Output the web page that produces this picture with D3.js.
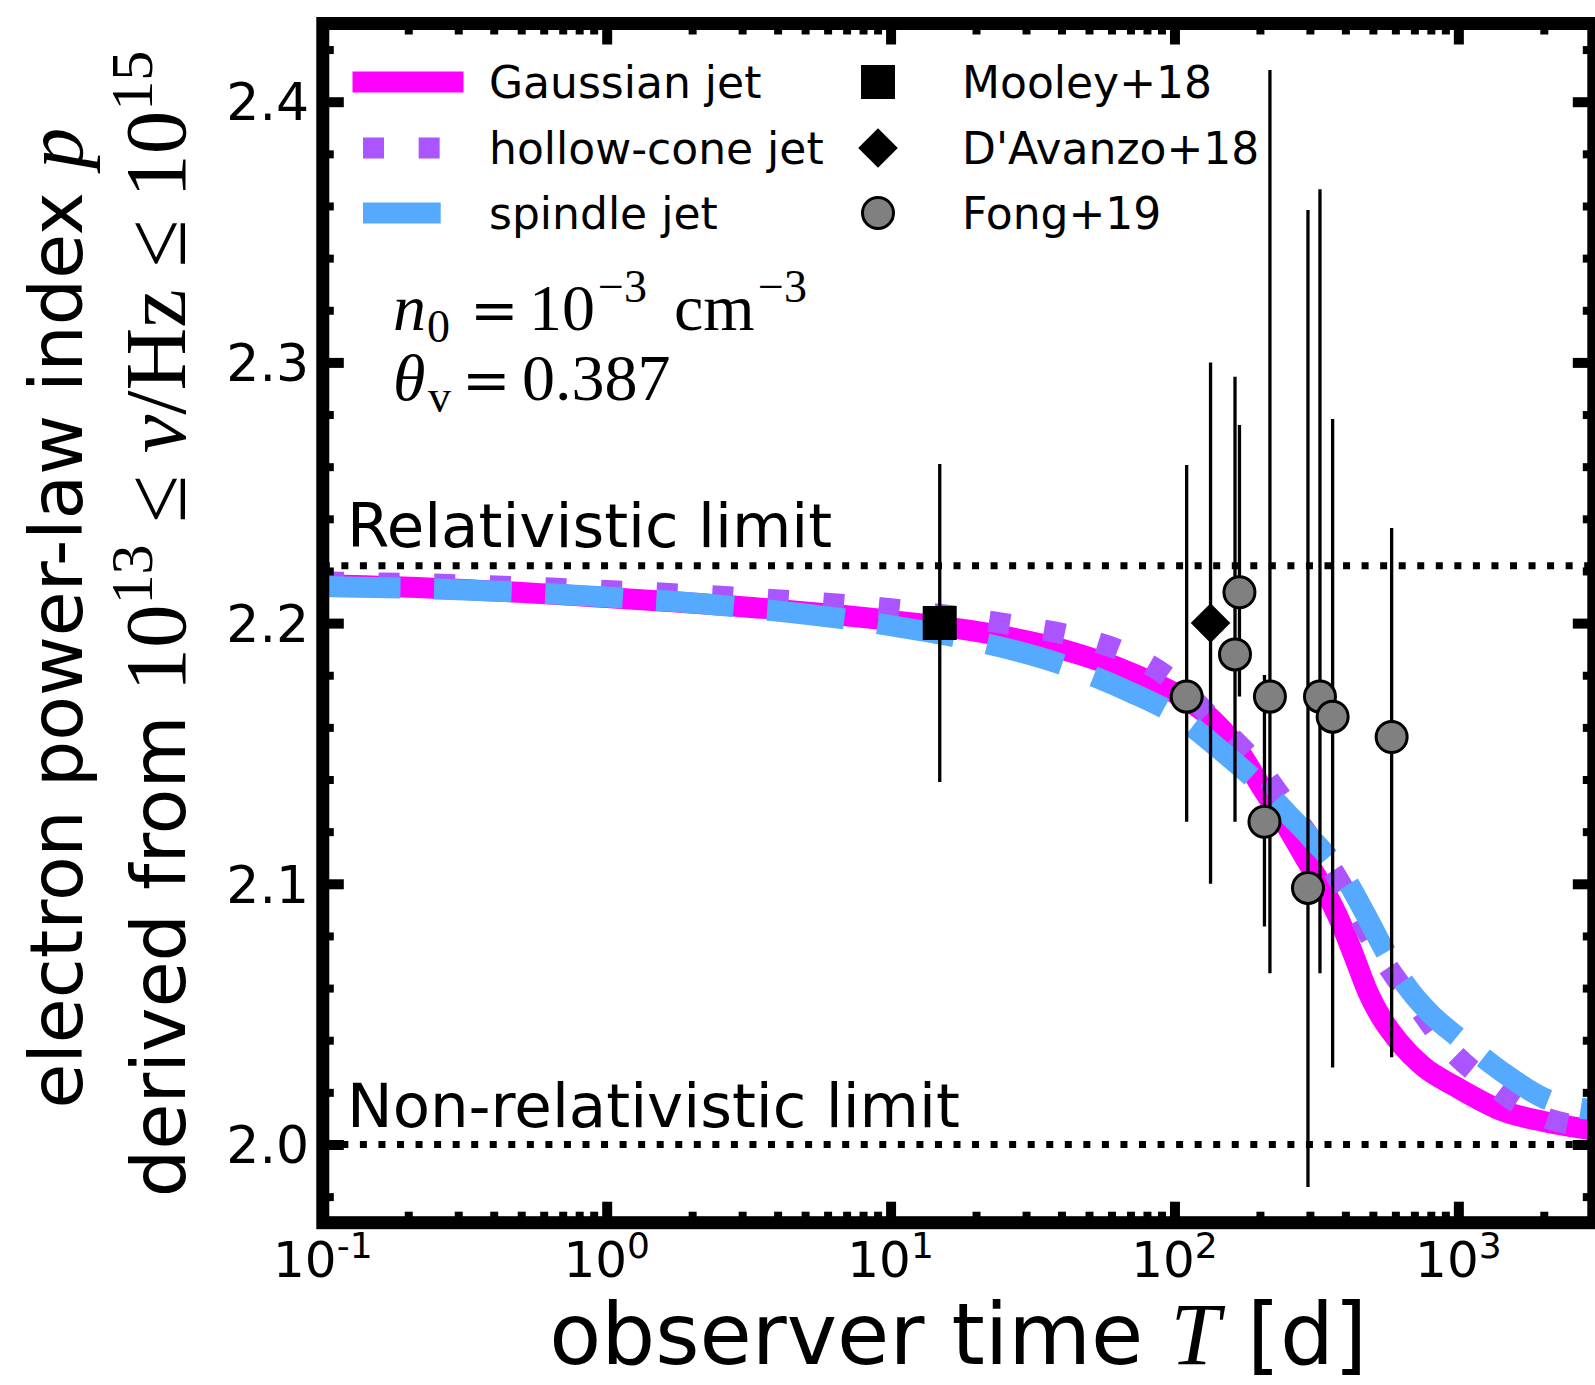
<!DOCTYPE html>
<meta charset="utf-8">
<style>
body { margin: 0; background: #fff; }
svg { display: block; }
text { font-family: "DejaVu Sans", sans-serif; fill: #000; }
.math { font-family: "Liberation Serif", "DejaVu Serif", serif; }
.tick line { stroke: #000; }
</style>
<body>
<script src="https://d3js.org/d3.v7.min.js"></script>
<script>

// model curves: observer time [d] -> electron index p
var gaussianT = [0.1, 0.3, 1, 3, 10, 20, 40, 70, 100, 130, 165, 205, 250, 290, 340, 380, 430, 480, 540, 616, 750, 982, 1425, 2000, 3000];
var gaussianP = [2.2148, 2.2130, 2.2098, 2.2063, 2.2010, 2.1968, 2.1900, 2.1810, 2.1732, 2.1650, 2.1526, 2.1362, 2.1215, 2.1095, 2.0970, 2.0865, 2.0720, 2.0585, 2.0480, 2.0395, 2.0300, 2.0221, 2.0130, 2.0088, 2.0055];

var hollowT = [0.1, 0.3, 1, 3, 10, 20, 30, 50, 70, 100, 140, 200, 250, 300, 350, 420, 500, 600, 700, 900, 1300, 1900, 3000];
var hollowP = [2.2158, 2.2147, 2.2125, 2.2098, 2.2055, 2.2015, 2.1985, 2.1935, 2.1878, 2.1775, 2.1620, 2.1445, 2.1300, 2.1180, 2.1075, 2.0930, 2.0775, 2.0640, 2.0545, 2.0385, 2.0230, 2.0115, 2.0065];

var spindleT = [0.1, 0.3, 1, 3, 10, 20, 40, 70, 100, 150, 200, 250, 300, 350, 400, 470, 550, 650, 800, 1000, 1400, 2000, 3000];
var spindleP = [2.2140, 2.2128, 2.2100, 2.2060, 2.1990, 2.1930, 2.1842, 2.1735, 2.1650, 2.1500, 2.1380, 2.1270, 2.1180, 2.1100, 2.1020, 2.0885, 2.0745, 2.0615, 2.0500, 2.0410, 2.0285, 2.0178, 2.0132];

// observations
var mooleyT = [14.9], mooleyP = [2.200], mooleyErr = [0.061];
var davanzoT = [134], davanzoP = [2.200], davanzoErr = [0.100];
var fongT  = [110.4, 163.4, 169.4, 207.5, 216.9, 295.3, 325.5, 360.7, 582.1];
var fongP  = [2.1718, 2.1880, 2.2118, 2.1238, 2.1718, 2.0984, 2.1718, 2.1641, 2.1563];
var fongLo = [0.0480, 0.0642, 0.0400, 0.0402, 0.1061, 0.1147, 0.1061, 0.1346, 0.1228];
var fongHi = [0.0888, 0.1065, 0.0642, 0.0563, 0.2404, 0.2601, 0.1946, 0.1142, 0.0802];

var relLimit = 2.222, nonrelLimit = 2.0;

var yTicks = [2.0, 2.1, 2.2, 2.3, 2.4];
var yTickLabels = ["2.0", "2.1", "2.2", "2.3", "2.4"];
var xTicks = [0.1, 1, 10, 100, 1000];
var xTickExp = ["-1", "0", "1", "2", "3"];

var modelNames = ["Gaussian jet", "hollow-cone jet", "spindle jet"];
var obsNames = ["Mooley+18", "D'Avanzo+18", "Fong+19"];

var width = 1595, height = 1385;
var box = {left: 322.8, right: 1593.8, top: 23.5, bottom: 1222.7};

var x = d3.scaleLog().domain([0.1, 3000]).range([box.left, box.right]);
var y = d3.scaleLinear().domain([1.97, 2.43]).range([box.bottom, box.top]);

var svg = d3.select("body").append("svg")
    .attr("width", width)
    .attr("height", height);

svg.append("clipPath").attr("id", "clip")
  .append("rect")
    .attr("x", box.left).attr("y", box.top)
    .attr("width", box.right - box.left).attr("height", box.bottom - box.top);

var plot = svg.append("g").attr("clip-path", "url(#clip)");

var line = d3.line()
    .x(function(d) { return x(d[0]); })
    .y(function(d) { return y(d[1]); })
    .curve(d3.curveMonotoneX);

// the three model curves
plot.append("path")
    .datum(d3.zip(gaussianT, gaussianP))
    .attr("d", line)
    .attr("fill", "none").attr("stroke", "#ff00ff").attr("stroke-width", 21);

plot.append("path")
    .datum(d3.zip(hollowT, hollowP))
    .attr("d", line)
    .attr("fill", "none").attr("stroke", "#aa55ff").attr("stroke-width", 21)
    .attr("stroke-dasharray", "21,34.65");

plot.append("path")
    .datum(d3.zip(spindleT, spindleP))
    .attr("d", line)
    .attr("fill", "none").attr("stroke", "#55aaff").attr("stroke-width", 21)
    .attr("stroke-dasharray", "77.7,33.6");

// limit lines
[relLimit, nonrelLimit].forEach(function(v) {
  plot.append("line")
      .attr("x1", x(0.1)).attr("x2", x(3000))
      .attr("y1", y(v)).attr("y2", y(v))
      .attr("stroke", "#000").attr("stroke-width", 7)
      .attr("stroke-dasharray", "7,11.55");
});

svg.append("text").attr("x", 347).attr("y", 547)
    .style("font-size", "61px").text("Relativistic limit");
svg.append("text").attr("x", 347).attr("y", 1127)
    .style("font-size", "61px").text("Non-relativistic limit");

// parameters
var ann1 = svg.append("text").attr("class", "math").attr("y", 330).style("font-size", "66px");
ann1.append("tspan").attr("x", 393).style("font-style", "italic").text("n");
ann1.append("tspan").attr("x", 427).attr("dy", 12).style("font-size", "46px").text("0");
ann1.append("tspan").attr("x", 470).attr("dy", -12).style("font-family", "DejaVu Serif").style("font-size", "58px").text("=");
ann1.append("tspan").attr("x", 529).text("10");
ann1.append("tspan").attr("x", 598).attr("dy", -28).style("font-size", "46px").text("\u22123");
ann1.append("tspan").attr("x", 674).attr("dy", 28).text("cm");
ann1.append("tspan").attr("x", 758).attr("dy", -28).style("font-size", "46px").text("\u22123");

var ann2 = svg.append("text").attr("class", "math").attr("y", 400).style("font-size", "66px");
ann2.append("tspan").attr("x", 393).style("font-style", "italic").text("\u03b8");
ann2.append("tspan").attr("x", 428).attr("dy", 12).style("font-size", "46px").text("v");
ann2.append("tspan").attr("x", 462).attr("dy", -12).style("font-family", "DejaVu Serif").style("font-size", "58px").text("=");
ann2.append("tspan").attr("x", 522).text("0.387");

// error bars and markers
function errbar(t, p, lo, hi) {
  svg.append("line")
      .attr("x1", x(t)).attr("x2", x(t))
      .attr("y1", y(p - lo)).attr("y2", y(p + hi))
      .attr("stroke", "#000").attr("stroke-width", 3.3);
}
mooleyT.forEach(function(t, i) { errbar(t, mooleyP[i], mooleyErr[i], mooleyErr[i]); });
davanzoT.forEach(function(t, i) { errbar(t, davanzoP[i], davanzoErr[i], davanzoErr[i]); });
fongT.forEach(function(t, i) { errbar(t, fongP[i], fongLo[i], fongHi[i]); });

var sqr = d3.symbol().type(d3.symbolSquare).size(34 * 34);
var dia = d3.symbol().type(d3.symbolSquare).size(28 * 28);

svg.selectAll(".mooley").data(mooleyT).enter().append("path")
    .attr("d", sqr)
    .attr("transform", function(d, i) { return "translate(" + x(d) + "," + y(mooleyP[i]) + ")"; })
    .attr("fill", "#000");

svg.selectAll(".davanzo").data(davanzoT).enter().append("path")
    .attr("d", dia)
    .attr("transform", function(d, i) { return "translate(" + x(d) + "," + y(davanzoP[i]) + ") rotate(45)"; })
    .attr("fill", "#000");

svg.selectAll(".fong").data(fongT).enter().append("circle")
    .attr("cx", function(d) { return x(d); })
    .attr("cy", function(d, i) { return y(fongP[i]); })
    .attr("r", 15.5)
    .attr("fill", "#808080").attr("stroke", "#000").attr("stroke-width", 3);

// legend
var rows = [82, 148, 213];
var lg = svg.append("g");
lg.append("line").attr("x1", 363).attr("x2", 453).attr("y1", rows[0]).attr("y2", rows[0])
    .attr("stroke", "#ff00ff").attr("stroke-width", 21).attr("stroke-linecap", "square");
lg.append("line").attr("x1", 363).attr("x2", 453).attr("y1", rows[1]).attr("y2", rows[1])
    .attr("stroke", "#aa55ff").attr("stroke-width", 21).attr("stroke-dasharray", "21,34.65");
lg.append("line").attr("x1", 363).attr("x2", 453).attr("y1", rows[2]).attr("y2", rows[2])
    .attr("stroke", "#55aaff").attr("stroke-width", 21).attr("stroke-dasharray", "77.7,33.6");
modelNames.forEach(function(s, i) {
  lg.append("text").attr("x", 489).attr("y", rows[i] + 16).style("font-size", "44px").text(s);
});
lg.append("path").attr("d", sqr).attr("transform", "translate(878," + rows[0] + ")").attr("fill", "#000");
lg.append("path").attr("d", dia).attr("transform", "translate(878," + rows[1] + ") rotate(45)").attr("fill", "#000");
lg.append("circle").attr("cx", 878).attr("cy", rows[2]).attr("r", 15.5)
    .attr("fill", "#808080").attr("stroke", "#000").attr("stroke-width", 3);
obsNames.forEach(function(s, i) {
  lg.append("text").attr("x", 962).attr("y", rows[i] + 16).style("font-size", "44px").text(s);
});

// ticks (all inward, mirrored on every side)
var xMinor = x.ticks().filter(function(t) {
  return xTicks.every(function(m) { return Math.abs(t - m) > 1e-9 * m; });
});
var yMinor = y.ticks(25).filter(function(v) {
  return yTicks.every(function(m) { return Math.abs(v - m) > 1e-9; });
});

function tickLayer(axis, vals, len, w) {
  return function(g) {
    g.call(axis.tickValues(vals).tickSize(-len).tickFormat(""));
    g.select(".domain").remove();
    g.selectAll(".tick line").attr("stroke-width", w);
  };
}
[[xTicks, 21, 10], [xMinor, 11, 8]].forEach(function(s) {
  svg.append("g").attr("transform", "translate(0," + box.bottom + ")").call(tickLayer(d3.axisBottom(x), s[0], s[1], s[2]));
  svg.append("g").attr("transform", "translate(0," + box.top + ")").call(tickLayer(d3.axisTop(x), s[0], s[1], s[2]));
});
[[yTicks, 21, 10], [yMinor, 11, 8]].forEach(function(s) {
  svg.append("g").attr("transform", "translate(" + box.left + ",0)").call(tickLayer(d3.axisLeft(y), s[0], s[1], s[2]));
  svg.append("g").attr("transform", "translate(" + box.right + ",0)").call(tickLayer(d3.axisRight(y), s[0], s[1], s[2]));
});

// frame
svg.append("rect")
    .attr("x", box.left).attr("y", box.top)
    .attr("width", box.right - box.left).attr("height", box.bottom - box.top)
    .attr("fill", "none").attr("stroke", "#000").attr("stroke-width", 13);

// tick labels
yTicks.forEach(function(v, i) {
  svg.append("text").attr("x", 309).attr("y", y(v)).attr("dy", "0.36em")
      .attr("text-anchor", "end").style("font-size", "52px").text(yTickLabels[i]);
});
xTicks.forEach(function(t, i) {
  var tx = svg.append("text").attr("x", x(t)).attr("y", 1277)
      .attr("text-anchor", "middle").style("font-size", "50px");
  tx.append("tspan").text("10");
  tx.append("tspan").attr("dy", -19).style("font-size", "36px").text(xTickExp[i]);
});

// axis titles
var xl = svg.append("text").attr("x", (box.left + box.right) / 2).attr("y", 1364)
    .attr("text-anchor", "middle").style("font-size", "85px");
xl.append("tspan").text("observer time ");
xl.append("tspan").attr("class", "math").style("font-style", "italic").style("font-size", "89px").text("T");
xl.append("tspan").text(" [d]");

var midY = (box.top + box.bottom) / 2;
var yl1 = svg.append("text").attr("transform", "translate(82," + (midY - 5) + ") rotate(-90)")
    .attr("text-anchor", "middle").style("font-size", "73px");
yl1.append("tspan").text("electron power-law index ");
yl1.append("tspan").attr("class", "math").style("font-style", "italic").style("font-size", "82px").text("p");

var yl2 = svg.append("text").attr("transform", "translate(185," + (midY + 1) + ") rotate(-90)")
    .attr("text-anchor", "middle").style("font-size", "75px");
yl2.append("tspan").text("derived from ");
yl2.append("tspan").attr("class", "math").style("font-size", "87px").text("10");
yl2.append("tspan").attr("class", "math").attr("dy", -33).style("font-size", "60px").text("13");
yl2.append("tspan").attr("class", "math").attr("dy", 33).style("font-size", "87px").text(" \u2264 ");
yl2.append("tspan").attr("class", "math").style("font-size", "87px").style("font-style", "italic").text("\u03bd");
yl2.append("tspan").attr("class", "math").style("font-size", "87px").text("/Hz \u2264 ");
yl2.append("tspan").attr("class", "math").style("font-size", "87px").text("10");
yl2.append("tspan").attr("class", "math").attr("dy", -33).style("font-size", "60px").text("15");

</script>
</body>
